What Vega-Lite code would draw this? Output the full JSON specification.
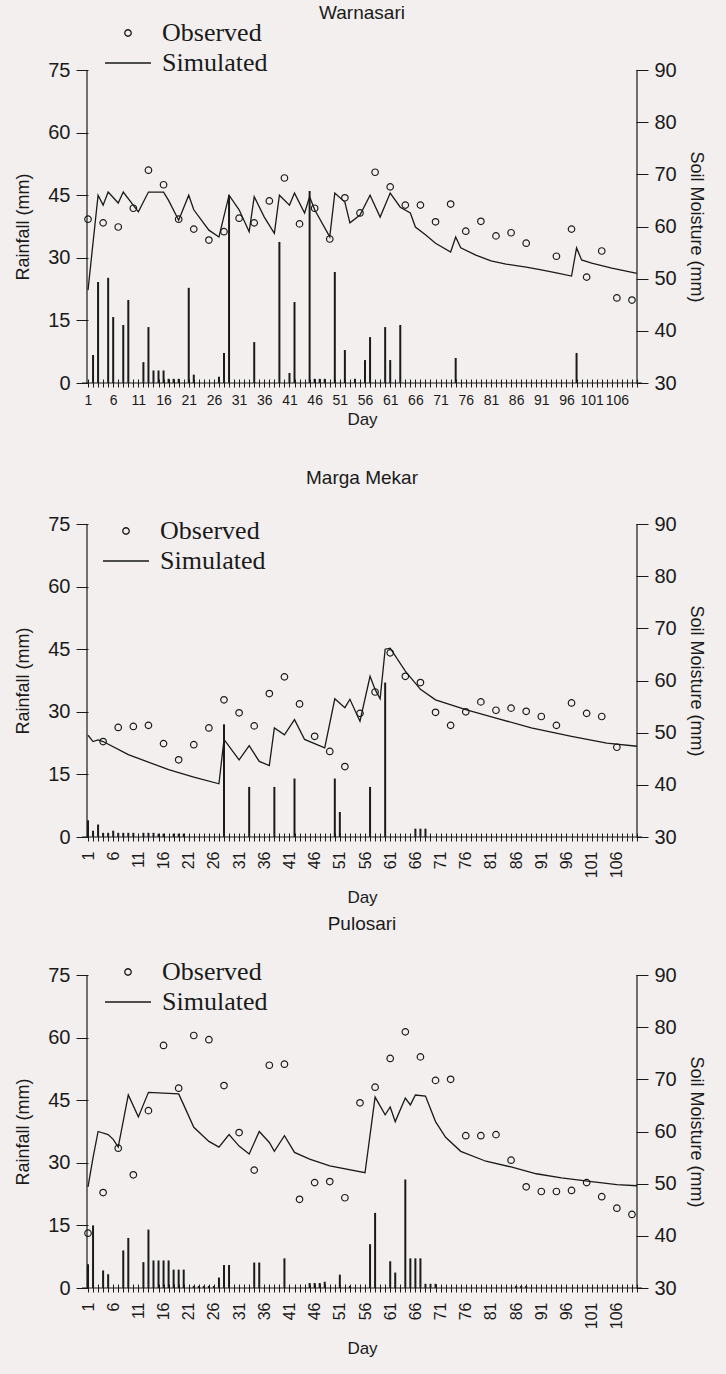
{
  "$schema": "https://vega.github.io/schema/vega-lite/v6.json",
  "background": "#f3efef",
  "padding": {"left": 14, "top": 4, "right": 22, "bottom": 20},
  "config": {
    "view": {"stroke": null},
    "font": "Liberation Sans",
    "axis": {"labelColor": "#1a1a1a", "titleColor": "#1a1a1a", "tickColor": "#1a1a1a", "grid": false, "domain": false, "titleFontWeight": "normal", "labelFont": "Liberation Sans", "titleFont": "Liberation Sans"}
  },
  "datasets": {
    "rain": [
      {"site": "Warnasari", "day": 2, "value": 6.7}, {"site": "Warnasari", "day": 3, "value": 24.2}, {"site": "Warnasari", "day": 5, "value": 25.2}, {"site": "Warnasari", "day": 6, "value": 15.8}, {"site": "Warnasari", "day": 8, "value": 13.9}, {"site": "Warnasari", "day": 9, "value": 19.9}, {"site": "Warnasari", "day": 12, "value": 5}, {"site": "Warnasari", "day": 13, "value": 13.4}, {"site": "Warnasari", "day": 14, "value": 3}, {"site": "Warnasari", "day": 15, "value": 3}, {"site": "Warnasari", "day": 16, "value": 3}, {"site": "Warnasari", "day": 17, "value": 1}, {"site": "Warnasari", "day": 18, "value": 1}, {"site": "Warnasari", "day": 19, "value": 1}, {"site": "Warnasari", "day": 21, "value": 22.8}, {"site": "Warnasari", "day": 22, "value": 2}, {"site": "Warnasari", "day": 27, "value": 1.5}, {"site": "Warnasari", "day": 28, "value": 7.2}, {"site": "Warnasari", "day": 29, "value": 45}, {"site": "Warnasari", "day": 34, "value": 9.8}, {"site": "Warnasari", "day": 39, "value": 33.8}, {"site": "Warnasari", "day": 41, "value": 2.4}, {"site": "Warnasari", "day": 42, "value": 19.4}, {"site": "Warnasari", "day": 45, "value": 46}, {"site": "Warnasari", "day": 46, "value": 1}, {"site": "Warnasari", "day": 47, "value": 1}, {"site": "Warnasari", "day": 48, "value": 1}, {"site": "Warnasari", "day": 50, "value": 26.6}, {"site": "Warnasari", "day": 52, "value": 7.9}, {"site": "Warnasari", "day": 54, "value": 1}, {"site": "Warnasari", "day": 56, "value": 5.5}, {"site": "Warnasari", "day": 57, "value": 11}, {"site": "Warnasari", "day": 60, "value": 13.4}, {"site": "Warnasari", "day": 61, "value": 5.5}, {"site": "Warnasari", "day": 63, "value": 13.9}, {"site": "Warnasari", "day": 74, "value": 6}, {"site": "Warnasari", "day": 98, "value": 7.2},
      {"site": "Marga Mekar", "day": 1, "value": 4}, {"site": "Marga Mekar", "day": 2, "value": 1.5}, {"site": "Marga Mekar", "day": 3, "value": 3}, {"site": "Marga Mekar", "day": 4, "value": 1}, {"site": "Marga Mekar", "day": 5, "value": 1}, {"site": "Marga Mekar", "day": 6, "value": 1.5}, {"site": "Marga Mekar", "day": 7, "value": 1}, {"site": "Marga Mekar", "day": 8, "value": 1}, {"site": "Marga Mekar", "day": 9, "value": 1}, {"site": "Marga Mekar", "day": 10, "value": 1}, {"site": "Marga Mekar", "day": 12, "value": 1}, {"site": "Marga Mekar", "day": 13, "value": 1}, {"site": "Marga Mekar", "day": 14, "value": 1}, {"site": "Marga Mekar", "day": 15, "value": 0.8}, {"site": "Marga Mekar", "day": 16, "value": 0.8}, {"site": "Marga Mekar", "day": 18, "value": 0.8}, {"site": "Marga Mekar", "day": 19, "value": 0.8}, {"site": "Marga Mekar", "day": 20, "value": 0.8}, {"site": "Marga Mekar", "day": 28, "value": 27}, {"site": "Marga Mekar", "day": 33, "value": 12}, {"site": "Marga Mekar", "day": 38, "value": 12}, {"site": "Marga Mekar", "day": 42, "value": 14}, {"site": "Marga Mekar", "day": 50, "value": 14}, {"site": "Marga Mekar", "day": 51, "value": 6}, {"site": "Marga Mekar", "day": 57, "value": 12}, {"site": "Marga Mekar", "day": 60, "value": 37}, {"site": "Marga Mekar", "day": 66, "value": 2}, {"site": "Marga Mekar", "day": 67, "value": 2}, {"site": "Marga Mekar", "day": 68, "value": 2},
      {"site": "Pulosari", "day": 1, "value": 5.7}, {"site": "Pulosari", "day": 2, "value": 15}, {"site": "Pulosari", "day": 4, "value": 4.2}, {"site": "Pulosari", "day": 5, "value": 3.3}, {"site": "Pulosari", "day": 8, "value": 9}, {"site": "Pulosari", "day": 9, "value": 12}, {"site": "Pulosari", "day": 12, "value": 6.2}, {"site": "Pulosari", "day": 13, "value": 14}, {"site": "Pulosari", "day": 14, "value": 6.6}, {"site": "Pulosari", "day": 15, "value": 6.6}, {"site": "Pulosari", "day": 16, "value": 6.6}, {"site": "Pulosari", "day": 17, "value": 6.6}, {"site": "Pulosari", "day": 18, "value": 4.4}, {"site": "Pulosari", "day": 19, "value": 4.4}, {"site": "Pulosari", "day": 20, "value": 4.4}, {"site": "Pulosari", "day": 22, "value": 0.5}, {"site": "Pulosari", "day": 23, "value": 0.5}, {"site": "Pulosari", "day": 24, "value": 0.5}, {"site": "Pulosari", "day": 25, "value": 0.5}, {"site": "Pulosari", "day": 26, "value": 0.5}, {"site": "Pulosari", "day": 27, "value": 2.5}, {"site": "Pulosari", "day": 28, "value": 5.5}, {"site": "Pulosari", "day": 29, "value": 5.5}, {"site": "Pulosari", "day": 34, "value": 6.1}, {"site": "Pulosari", "day": 35, "value": 6.1}, {"site": "Pulosari", "day": 40, "value": 7.1}, {"site": "Pulosari", "day": 45, "value": 1.2}, {"site": "Pulosari", "day": 46, "value": 1.2}, {"site": "Pulosari", "day": 47, "value": 1.2}, {"site": "Pulosari", "day": 48, "value": 1.5}, {"site": "Pulosari", "day": 51, "value": 3.2}, {"site": "Pulosari", "day": 53, "value": 0.5}, {"site": "Pulosari", "day": 57, "value": 10.5}, {"site": "Pulosari", "day": 58, "value": 18}, {"site": "Pulosari", "day": 61, "value": 6.4}, {"site": "Pulosari", "day": 62, "value": 3.7}, {"site": "Pulosari", "day": 64, "value": 26}, {"site": "Pulosari", "day": 65, "value": 7.1}, {"site": "Pulosari", "day": 66, "value": 7.1}, {"site": "Pulosari", "day": 67, "value": 7.1}, {"site": "Pulosari", "day": 68, "value": 1}, {"site": "Pulosari", "day": 69, "value": 1}, {"site": "Pulosari", "day": 70, "value": 1}, {"site": "Pulosari", "day": 86, "value": 0.5}, {"site": "Pulosari", "day": 87, "value": 0.5}, {"site": "Pulosari", "day": 88, "value": 0.5}
    ],
    "obs": [
      {"site": "Warnasari", "day": 1, "value": 61.4}, {"site": "Warnasari", "day": 4, "value": 60.7}, {"site": "Warnasari", "day": 7, "value": 59.9}, {"site": "Warnasari", "day": 10, "value": 63.5}, {"site": "Warnasari", "day": 13, "value": 70.8}, {"site": "Warnasari", "day": 16, "value": 68}, {"site": "Warnasari", "day": 19, "value": 61.4}, {"site": "Warnasari", "day": 22, "value": 59.5}, {"site": "Warnasari", "day": 25, "value": 57.4}, {"site": "Warnasari", "day": 28, "value": 59}, {"site": "Warnasari", "day": 31, "value": 61.6}, {"site": "Warnasari", "day": 34, "value": 60.7}, {"site": "Warnasari", "day": 37, "value": 64.9}, {"site": "Warnasari", "day": 40, "value": 69.3}, {"site": "Warnasari", "day": 43, "value": 60.5}, {"site": "Warnasari", "day": 46, "value": 63.5}, {"site": "Warnasari", "day": 49, "value": 57.6}, {"site": "Warnasari", "day": 52, "value": 65.5}, {"site": "Warnasari", "day": 55, "value": 62.6}, {"site": "Warnasari", "day": 58, "value": 70.4}, {"site": "Warnasari", "day": 61, "value": 67.6}, {"site": "Warnasari", "day": 64, "value": 64.1}, {"site": "Warnasari", "day": 67, "value": 64.1}, {"site": "Warnasari", "day": 70, "value": 60.9}, {"site": "Warnasari", "day": 73, "value": 64.3}, {"site": "Warnasari", "day": 76, "value": 59.1}, {"site": "Warnasari", "day": 79, "value": 61}, {"site": "Warnasari", "day": 82, "value": 58.2}, {"site": "Warnasari", "day": 85, "value": 58.8}, {"site": "Warnasari", "day": 88, "value": 56.8}, {"site": "Warnasari", "day": 94, "value": 54.3}, {"site": "Warnasari", "day": 97, "value": 59.5}, {"site": "Warnasari", "day": 100, "value": 50.3}, {"site": "Warnasari", "day": 103, "value": 55.3}, {"site": "Warnasari", "day": 106, "value": 46.3}, {"site": "Warnasari", "day": 109, "value": 45.9},
      {"site": "Marga Mekar", "day": 4, "value": 48.3}, {"site": "Marga Mekar", "day": 7, "value": 51}, {"site": "Marga Mekar", "day": 10, "value": 51.2}, {"site": "Marga Mekar", "day": 13, "value": 51.4}, {"site": "Marga Mekar", "day": 16, "value": 47.9}, {"site": "Marga Mekar", "day": 19, "value": 44.8}, {"site": "Marga Mekar", "day": 22, "value": 47.7}, {"site": "Marga Mekar", "day": 25, "value": 50.9}, {"site": "Marga Mekar", "day": 28, "value": 56.3}, {"site": "Marga Mekar", "day": 31, "value": 53.8}, {"site": "Marga Mekar", "day": 34, "value": 51.3}, {"site": "Marga Mekar", "day": 37, "value": 57.5}, {"site": "Marga Mekar", "day": 40, "value": 60.7}, {"site": "Marga Mekar", "day": 43, "value": 55.5}, {"site": "Marga Mekar", "day": 46, "value": 49.3}, {"site": "Marga Mekar", "day": 49, "value": 46.4}, {"site": "Marga Mekar", "day": 52, "value": 43.5}, {"site": "Marga Mekar", "day": 55, "value": 53.7}, {"site": "Marga Mekar", "day": 58, "value": 57.8}, {"site": "Marga Mekar", "day": 61, "value": 65.3}, {"site": "Marga Mekar", "day": 64, "value": 60.8}, {"site": "Marga Mekar", "day": 67, "value": 59.6}, {"site": "Marga Mekar", "day": 70, "value": 53.9}, {"site": "Marga Mekar", "day": 73, "value": 51.4}, {"site": "Marga Mekar", "day": 76, "value": 54}, {"site": "Marga Mekar", "day": 79, "value": 55.9}, {"site": "Marga Mekar", "day": 82, "value": 54.3}, {"site": "Marga Mekar", "day": 85, "value": 54.7}, {"site": "Marga Mekar", "day": 88, "value": 54.1}, {"site": "Marga Mekar", "day": 91, "value": 53.1}, {"site": "Marga Mekar", "day": 94, "value": 51.4}, {"site": "Marga Mekar", "day": 97, "value": 55.7}, {"site": "Marga Mekar", "day": 100, "value": 53.7}, {"site": "Marga Mekar", "day": 103, "value": 53.1}, {"site": "Marga Mekar", "day": 106, "value": 47.2},
      {"site": "Pulosari", "day": 1, "value": 40.5}, {"site": "Pulosari", "day": 4, "value": 48.3}, {"site": "Pulosari", "day": 7, "value": 56.8}, {"site": "Pulosari", "day": 10, "value": 51.7}, {"site": "Pulosari", "day": 13, "value": 64}, {"site": "Pulosari", "day": 16, "value": 76.5}, {"site": "Pulosari", "day": 19, "value": 68.3}, {"site": "Pulosari", "day": 22, "value": 78.4}, {"site": "Pulosari", "day": 25, "value": 77.6}, {"site": "Pulosari", "day": 28, "value": 68.8}, {"site": "Pulosari", "day": 31, "value": 59.8}, {"site": "Pulosari", "day": 34, "value": 52.6}, {"site": "Pulosari", "day": 37, "value": 72.7}, {"site": "Pulosari", "day": 40, "value": 72.9}, {"site": "Pulosari", "day": 43, "value": 47}, {"site": "Pulosari", "day": 46, "value": 50.2}, {"site": "Pulosari", "day": 49, "value": 50.4}, {"site": "Pulosari", "day": 52, "value": 47.3}, {"site": "Pulosari", "day": 55, "value": 65.5}, {"site": "Pulosari", "day": 58, "value": 68.5}, {"site": "Pulosari", "day": 61, "value": 74}, {"site": "Pulosari", "day": 64, "value": 79.1}, {"site": "Pulosari", "day": 67, "value": 74.3}, {"site": "Pulosari", "day": 70, "value": 69.8}, {"site": "Pulosari", "day": 73, "value": 70}, {"site": "Pulosari", "day": 76, "value": 59.2}, {"site": "Pulosari", "day": 79, "value": 59.2}, {"site": "Pulosari", "day": 82, "value": 59.4}, {"site": "Pulosari", "day": 85, "value": 54.5}, {"site": "Pulosari", "day": 88, "value": 49.4}, {"site": "Pulosari", "day": 91, "value": 48.5}, {"site": "Pulosari", "day": 94, "value": 48.5}, {"site": "Pulosari", "day": 97, "value": 48.7}, {"site": "Pulosari", "day": 100, "value": 50.2}, {"site": "Pulosari", "day": 103, "value": 47.5}, {"site": "Pulosari", "day": 106, "value": 45.3}, {"site": "Pulosari", "day": 109, "value": 44.1}
    ],
    "sim": [
      {"site": "Warnasari", "day": 1, "value": 47.8}, {"site": "Warnasari", "day": 3, "value": 66}, {"site": "Warnasari", "day": 4, "value": 64.1}, {"site": "Warnasari", "day": 5, "value": 66.6}, {"site": "Warnasari", "day": 7, "value": 64.5}, {"site": "Warnasari", "day": 8, "value": 66.6}, {"site": "Warnasari", "day": 11, "value": 62.8}, {"site": "Warnasari", "day": 13, "value": 66.6}, {"site": "Warnasari", "day": 16, "value": 66.6}, {"site": "Warnasari", "day": 17, "value": 65}, {"site": "Warnasari", "day": 19, "value": 61.2}, {"site": "Warnasari", "day": 21, "value": 66}, {"site": "Warnasari", "day": 22, "value": 63.2}, {"site": "Warnasari", "day": 25, "value": 59.3}, {"site": "Warnasari", "day": 27, "value": 58}, {"site": "Warnasari", "day": 29, "value": 66}, {"site": "Warnasari", "day": 31, "value": 63.2}, {"site": "Warnasari", "day": 33, "value": 59}, {"site": "Warnasari", "day": 34, "value": 65.7}, {"site": "Warnasari", "day": 36, "value": 61.8}, {"site": "Warnasari", "day": 38, "value": 58.7}, {"site": "Warnasari", "day": 39, "value": 66}, {"site": "Warnasari", "day": 41, "value": 64.1}, {"site": "Warnasari", "day": 42, "value": 66.4}, {"site": "Warnasari", "day": 44, "value": 62.6}, {"site": "Warnasari", "day": 45, "value": 65.7}, {"site": "Warnasari", "day": 46, "value": 63.2}, {"site": "Warnasari", "day": 49, "value": 58}, {"site": "Warnasari", "day": 50, "value": 66.4}, {"site": "Warnasari", "day": 52, "value": 64.7}, {"site": "Warnasari", "day": 53, "value": 60.7}, {"site": "Warnasari", "day": 55, "value": 62.2}, {"site": "Warnasari", "day": 57, "value": 66}, {"site": "Warnasari", "day": 59, "value": 61.8}, {"site": "Warnasari", "day": 61, "value": 66.4}, {"site": "Warnasari", "day": 63, "value": 63.7}, {"site": "Warnasari", "day": 65, "value": 62.6}, {"site": "Warnasari", "day": 66, "value": 59.9}, {"site": "Warnasari", "day": 68, "value": 58.4}, {"site": "Warnasari", "day": 70, "value": 56.8}, {"site": "Warnasari", "day": 73, "value": 55.1}, {"site": "Warnasari", "day": 74, "value": 58}, {"site": "Warnasari", "day": 75, "value": 55.9}, {"site": "Warnasari", "day": 78, "value": 54.5}, {"site": "Warnasari", "day": 81, "value": 53.4}, {"site": "Warnasari", "day": 84, "value": 52.8}, {"site": "Warnasari", "day": 88, "value": 52.2}, {"site": "Warnasari", "day": 91, "value": 51.7}, {"site": "Warnasari", "day": 94, "value": 51.1}, {"site": "Warnasari", "day": 97, "value": 50.5}, {"site": "Warnasari", "day": 98, "value": 55.9}, {"site": "Warnasari", "day": 99, "value": 53.6}, {"site": "Warnasari", "day": 101, "value": 53}, {"site": "Warnasari", "day": 105, "value": 52}, {"site": "Warnasari", "day": 110, "value": 51},
      {"site": "Marga Mekar", "day": 1, "value": 49.5}, {"site": "Marga Mekar", "day": 2, "value": 48.3}, {"site": "Marga Mekar", "day": 3, "value": 48.6}, {"site": "Marga Mekar", "day": 4, "value": 48.3}, {"site": "Marga Mekar", "day": 9, "value": 45.8}, {"site": "Marga Mekar", "day": 17, "value": 42.9}, {"site": "Marga Mekar", "day": 22, "value": 41.5}, {"site": "Marga Mekar", "day": 27, "value": 40.2}, {"site": "Marga Mekar", "day": 28, "value": 48.7}, {"site": "Marga Mekar", "day": 31, "value": 44.8}, {"site": "Marga Mekar", "day": 33, "value": 47.5}, {"site": "Marga Mekar", "day": 35, "value": 44.5}, {"site": "Marga Mekar", "day": 37, "value": 43.7}, {"site": "Marga Mekar", "day": 38, "value": 50.9}, {"site": "Marga Mekar", "day": 40, "value": 49.6}, {"site": "Marga Mekar", "day": 42, "value": 52.5}, {"site": "Marga Mekar", "day": 44, "value": 48.7}, {"site": "Marga Mekar", "day": 48, "value": 47.1}, {"site": "Marga Mekar", "day": 50, "value": 56.5}, {"site": "Marga Mekar", "day": 52, "value": 54.8}, {"site": "Marga Mekar", "day": 53, "value": 56.4}, {"site": "Marga Mekar", "day": 55, "value": 52.2}, {"site": "Marga Mekar", "day": 57, "value": 60.8}, {"site": "Marga Mekar", "day": 58, "value": 58.3}, {"site": "Marga Mekar", "day": 59, "value": 56.5}, {"site": "Marga Mekar", "day": 60, "value": 66}, {"site": "Marga Mekar", "day": 61, "value": 66.2}, {"site": "Marga Mekar", "day": 64, "value": 61.8}, {"site": "Marga Mekar", "day": 67, "value": 58.3}, {"site": "Marga Mekar", "day": 70, "value": 56.3}, {"site": "Marga Mekar", "day": 76, "value": 54.4}, {"site": "Marga Mekar", "day": 82, "value": 52.8}, {"site": "Marga Mekar", "day": 89, "value": 50.9}, {"site": "Marga Mekar", "day": 97, "value": 49.3}, {"site": "Marga Mekar", "day": 104, "value": 48}, {"site": "Marga Mekar", "day": 110, "value": 47.4},
      {"site": "Pulosari", "day": 1, "value": 49.4}, {"site": "Pulosari", "day": 2, "value": 55}, {"site": "Pulosari", "day": 3, "value": 60}, {"site": "Pulosari", "day": 5, "value": 59.4}, {"site": "Pulosari", "day": 6, "value": 58.5}, {"site": "Pulosari", "day": 7, "value": 57}, {"site": "Pulosari", "day": 9, "value": 67}, {"site": "Pulosari", "day": 11, "value": 62.8}, {"site": "Pulosari", "day": 13, "value": 67.5}, {"site": "Pulosari", "day": 19, "value": 67.2}, {"site": "Pulosari", "day": 20, "value": 65.1}, {"site": "Pulosari", "day": 22, "value": 60.8}, {"site": "Pulosari", "day": 25, "value": 58.1}, {"site": "Pulosari", "day": 27, "value": 57}, {"site": "Pulosari", "day": 29, "value": 59.4}, {"site": "Pulosari", "day": 31, "value": 57.2}, {"site": "Pulosari", "day": 33, "value": 55.7}, {"site": "Pulosari", "day": 35, "value": 60}, {"site": "Pulosari", "day": 37, "value": 57.9}, {"site": "Pulosari", "day": 38, "value": 56.2}, {"site": "Pulosari", "day": 40, "value": 59.2}, {"site": "Pulosari", "day": 42, "value": 56}, {"site": "Pulosari", "day": 45, "value": 54.7}, {"site": "Pulosari", "day": 49, "value": 53.4}, {"site": "Pulosari", "day": 56, "value": 52.1}, {"site": "Pulosari", "day": 58, "value": 66.6}, {"site": "Pulosari", "day": 60, "value": 63.2}, {"site": "Pulosari", "day": 61, "value": 64.7}, {"site": "Pulosari", "day": 62, "value": 61.9}, {"site": "Pulosari", "day": 64, "value": 66.4}, {"site": "Pulosari", "day": 65, "value": 65.1}, {"site": "Pulosari", "day": 66, "value": 67}, {"site": "Pulosari", "day": 68, "value": 66.8}, {"site": "Pulosari", "day": 70, "value": 61.9}, {"site": "Pulosari", "day": 72, "value": 58.9}, {"site": "Pulosari", "day": 75, "value": 56.2}, {"site": "Pulosari", "day": 80, "value": 54.3}, {"site": "Pulosari", "day": 85, "value": 53.2}, {"site": "Pulosari", "day": 90, "value": 51.9}, {"site": "Pulosari", "day": 95, "value": 51.1}, {"site": "Pulosari", "day": 101, "value": 50.4}, {"site": "Pulosari", "day": 106, "value": 49.8}, {"site": "Pulosari", "day": 110, "value": 49.6}
    ]
  },
  "bounds": "full",
  "spacing": 42,
  "resolve": {"scale": {"shape": "independent"}, "legend": {"shape": "independent"}},
  "vconcat": [
    {
      "width": 560, "height": 313,
      "title": {"text": "Warnasari", "font": "Liberation Sans", "fontSize": 19, "fontWeight": "normal", "color": "#1a1a1a", "frame": "group", "anchor": "middle", "offset": -3},
      "resolve": {"scale": {"y": "independent"}},
      "layer": [
        {"layer": [
          {"data": {"name": "rain"}, "transform": [{"filter": "datum.site == 'Warnasari'"}],
           "mark": {"type": "bar", "size": 2, "color": "#1a1a1a"},
           "encoding": {
             "x": {"field": "day", "type": "quantitative", "scale": {"domain": [0.8, 110], "nice": false, "zero": false},
                   "axis": {"title": "Day", "tickCount": 200, "format": "d", "values": [1,2,3,4,5,6,7,8,9,10,11,12,13,14,15,16,17,18,19,20,21,22,23,24,25,26,27,28,29,30,31,32,33,34,35,36,37,38,39,40,41,42,43,44,45,46,47,48,49,50,51,52,53,54,55,56,57,58,59,60,61,62,63,64,65,66,67,68,69,70,71,72,73,74,75,76,77,78,79,80,81,82,83,84,85,86,87,88,89,90,91,92,93,94,95,96,97,98,99,100,101,102,103,104,105,106,107,108,109,110],
                            "labelExpr": "(datum.value - 1) % 5 == 0 ? datum.label : ''", "labelOverlap": false, "labelFlush": false, "labelBound": false, "labelAngle": 0,
                            "offset": -4, "tickSize": 8, "labelPadding": 6, "labelFontSize": 14, "titleFontSize": 17, "titlePadding": 4}},
             "y": {"field": "value", "type": "quantitative", "scale": {"domain": [0, 75], "nice": false},
                   "axis": {"title": "Rainfall (mm)", "values": [0, 15, 30, 45, 60, 75], "offset": -6, "tickSize": 12, "labelPadding": 6, "labelFontSize": 20, "titleFontSize": 18, "titlePadding": 15}}
           }},
          {"data": {"values": [{}]}, "mark": {"type": "rule", "color": "#1a1a1a", "strokeWidth": 1.2},
           "encoding": {"y": {"datum": 0, "type": "quantitative"}}},
          {"data": {"values": [{}]}, "mark": {"type": "rule", "color": "#1a1a1a", "strokeWidth": 1.2},
           "encoding": {"x": {"datum": 0.8, "type": "quantitative"}}},
          {"data": {"values": [{}]}, "mark": {"type": "rule", "color": "#1a1a1a", "strokeWidth": 1.2},
           "encoding": {"x": {"datum": 110, "type": "quantitative"}}}
        ]},
        {"layer": [
          {"data": {"name": "obs"}, "transform": [{"filter": "datum.site == 'Warnasari'"}],
           "mark": {"type": "point", "filled": false, "size": 100, "strokeWidth": 1.2, "color": "#1a1a1a", "opacity": 1},
           "encoding": {
             "x": {"field": "day", "type": "quantitative"},
             "y": {"field": "value", "type": "quantitative", "scale": {"domain": [30, 90], "nice": false, "zero": false},
                   "axis": {"orient": "right", "title": "Soil Moisture (mm)", "values": [30, 40, 50, 60, 70, 80, 90], "offset": -6, "tickSize": 12, "labelPadding": 6, "labelFontSize": 20, "titleFontSize": 18, "titlePadding": 10}},
             "shape": {"datum": "Observed", "type": "nominal",
                       "scale": {"domain": ["Observed", "Simulated"], "range": ["M-0.65,0A0.65,0.65,0,1,0,0.65,0A0.65,0.65,0,1,0,-0.65,0Z", "M-4.6,0L4.6,0"]},
                       "legend": {"orient": "none", "legendX": 33, "legendY": -50, "title": null, "padding": 0, "labelFont": "Liberation Serif", "labelFontSize": 26, "labelColor": "#1a1a1a", "symbolSize": 100, "symbolStrokeWidth": 1.3, "symbolStrokeColor": "#1a1a1a", "symbolFillColor": "transparent", "labelOffset": 21, "rowPadding": 4}}
           }},
          {"data": {"name": "sim"}, "transform": [{"filter": "datum.site == 'Warnasari'"}],
           "mark": {"type": "line", "color": "#1a1a1a", "strokeWidth": 1.3},
           "encoding": {
             "x": {"field": "day", "type": "quantitative"},
             "y": {"field": "value", "type": "quantitative"}
           }}
        ]}
      ]
    },
    {
      "bounds": "full",
      "spacing": 9,
      "resolve": {"scale": {"shape": "independent"}, "legend": {"shape": "independent"}},
      "vconcat": [
        {
          "width": 560, "height": 313,
          "title": {"text": "Marga Mekar", "font": "Liberation Sans", "fontSize": 19, "fontWeight": "normal", "color": "#1a1a1a", "frame": "group", "anchor": "middle", "offset": 26},
          "resolve": {"scale": {"y": "independent"}},
          "layer": [
            {"layer": [
              {"data": {"name": "rain"}, "transform": [{"filter": "datum.site == 'Marga Mekar'"}],
               "mark": {"type": "bar", "size": 2, "color": "#1a1a1a"},
               "encoding": {
                 "x": {"field": "day", "type": "quantitative", "scale": {"domain": [0.8, 110], "nice": false, "zero": false},
                       "axis": {"title": "Day", "tickCount": 200, "format": "d", "values": [1,2,3,4,5,6,7,8,9,10,11,12,13,14,15,16,17,18,19,20,21,22,23,24,25,26,27,28,29,30,31,32,33,34,35,36,37,38,39,40,41,42,43,44,45,46,47,48,49,50,51,52,53,54,55,56,57,58,59,60,61,62,63,64,65,66,67,68,69,70,71,72,73,74,75,76,77,78,79,80,81,82,83,84,85,86,87,88,89,90,91,92,93,94,95,96,97,98,99,100,101,102,103,104,105,106,107,108,109,110],
                                "labelExpr": "(datum.value - 1) % 5 == 0 ? datum.label : ''", "labelOverlap": false, "labelFlush": false, "labelBound": false, "labelAngle": 270,
                                "offset": -4, "tickSize": 8, "labelPadding": 10, "labelFontSize": 16, "titleFontSize": 17, "titlePadding": 12}},
                 "y": {"field": "value", "type": "quantitative", "scale": {"domain": [0, 75], "nice": false},
                       "axis": {"title": "Rainfall (mm)", "values": [0, 15, 30, 45, 60, 75], "offset": -6, "tickSize": 12, "labelPadding": 6, "labelFontSize": 20, "titleFontSize": 18, "titlePadding": 15}}
               }},
              {"data": {"values": [{}]}, "mark": {"type": "rule", "color": "#1a1a1a", "strokeWidth": 1.2},
               "encoding": {"y": {"datum": 0, "type": "quantitative"}}},
              {"data": {"values": [{}]}, "mark": {"type": "rule", "color": "#1a1a1a", "strokeWidth": 1.2},
               "encoding": {"x": {"datum": 0.8, "type": "quantitative"}}},
              {"data": {"values": [{}]}, "mark": {"type": "rule", "color": "#1a1a1a", "strokeWidth": 1.2},
               "encoding": {"x": {"datum": 110, "type": "quantitative"}}}
            ]},
            {"layer": [
              {"data": {"name": "obs"}, "transform": [{"filter": "datum.site == 'Marga Mekar'"}],
               "mark": {"type": "point", "filled": false, "size": 100, "strokeWidth": 1.2, "color": "#1a1a1a", "opacity": 1},
               "encoding": {
                 "x": {"field": "day", "type": "quantitative"},
                 "y": {"field": "value", "type": "quantitative", "scale": {"domain": [30, 90], "nice": false, "zero": false},
                       "axis": {"orient": "right", "title": "Soil Moisture (mm)", "values": [30, 40, 50, 60, 70, 80, 90], "offset": -6, "tickSize": 12, "labelPadding": 6, "labelFontSize": 20, "titleFontSize": 18, "titlePadding": 10}},
                 "shape": {"datum": "Observed", "type": "nominal",
                           "scale": {"domain": ["Observed", "Simulated"], "range": ["M-0.65,0A0.65,0.65,0,1,0,0.65,0A0.65,0.65,0,1,0,-0.65,0Z", "M-4.6,0L4.6,0"]},
                           "legend": {"orient": "none", "legendX": 31, "legendY": -6, "title": null, "padding": 0, "labelFont": "Liberation Serif", "labelFontSize": 26, "labelColor": "#1a1a1a", "symbolSize": 100, "symbolStrokeWidth": 1.3, "symbolStrokeColor": "#1a1a1a", "symbolFillColor": "transparent", "labelOffset": 21, "rowPadding": 4}}
               }},
              {"data": {"name": "sim"}, "transform": [{"filter": "datum.site == 'Marga Mekar'"}],
               "mark": {"type": "line", "color": "#1a1a1a", "strokeWidth": 1.3},
               "encoding": {
                 "x": {"field": "day", "type": "quantitative"},
                 "y": {"field": "value", "type": "quantitative"}
               }}
            ]}
          ]
        },
        {
          "width": 560, "height": 313,
          "title": {"text": "Pulosari", "font": "Liberation Sans", "fontSize": 19, "fontWeight": "normal", "color": "#1a1a1a", "frame": "group", "anchor": "middle", "offset": 25},
          "resolve": {"scale": {"y": "independent"}},
          "layer": [
            {"layer": [
              {"data": {"name": "rain"}, "transform": [{"filter": "datum.site == 'Pulosari'"}],
               "mark": {"type": "bar", "size": 2, "color": "#1a1a1a"},
               "encoding": {
                 "x": {"field": "day", "type": "quantitative", "scale": {"domain": [0.8, 110], "nice": false, "zero": false},
                       "axis": {"title": "Day", "tickCount": 200, "format": "d", "values": [1,2,3,4,5,6,7,8,9,10,11,12,13,14,15,16,17,18,19,20,21,22,23,24,25,26,27,28,29,30,31,32,33,34,35,36,37,38,39,40,41,42,43,44,45,46,47,48,49,50,51,52,53,54,55,56,57,58,59,60,61,62,63,64,65,66,67,68,69,70,71,72,73,74,75,76,77,78,79,80,81,82,83,84,85,86,87,88,89,90,91,92,93,94,95,96,97,98,99,100,101,102,103,104,105,106,107,108,109,110],
                                "labelExpr": "(datum.value - 1) % 5 == 0 ? datum.label : ''", "labelOverlap": false, "labelFlush": false, "labelBound": false, "labelAngle": 270,
                                "offset": -4, "tickSize": 8, "labelPadding": 10, "labelFontSize": 16, "titleFontSize": 17, "titlePadding": 12}},
                 "y": {"field": "value", "type": "quantitative", "scale": {"domain": [0, 75], "nice": false},
                       "axis": {"title": "Rainfall (mm)", "values": [0, 15, 30, 45, 60, 75], "offset": -6, "tickSize": 12, "labelPadding": 6, "labelFontSize": 20, "titleFontSize": 18, "titlePadding": 15}}
               }},
              {"data": {"values": [{}]}, "mark": {"type": "rule", "color": "#1a1a1a", "strokeWidth": 1.2},
               "encoding": {"y": {"datum": 0, "type": "quantitative"}}},
              {"data": {"values": [{}]}, "mark": {"type": "rule", "color": "#1a1a1a", "strokeWidth": 1.2},
               "encoding": {"x": {"datum": 0.8, "type": "quantitative"}}},
              {"data": {"values": [{}]}, "mark": {"type": "rule", "color": "#1a1a1a", "strokeWidth": 1.2},
               "encoding": {"x": {"datum": 110, "type": "quantitative"}}}
            ]},
            {"layer": [
              {"data": {"name": "obs"}, "transform": [{"filter": "datum.site == 'Pulosari'"}],
               "mark": {"type": "point", "filled": false, "size": 100, "strokeWidth": 1.2, "color": "#1a1a1a", "opacity": 1},
               "encoding": {
                 "x": {"field": "day", "type": "quantitative"},
                 "y": {"field": "value", "type": "quantitative", "scale": {"domain": [30, 90], "nice": false, "zero": false},
                       "axis": {"orient": "right", "title": "Soil Moisture (mm)", "values": [30, 40, 50, 60, 70, 80, 90], "offset": -6, "tickSize": 12, "labelPadding": 6, "labelFontSize": 20, "titleFontSize": 18, "titlePadding": 10}},
                 "shape": {"datum": "Observed", "type": "nominal",
                           "scale": {"domain": ["Observed", "Simulated"], "range": ["M-0.65,0A0.65,0.65,0,1,0,0.65,0A0.65,0.65,0,1,0,-0.65,0Z", "M-4.6,0L4.6,0"]},
                           "legend": {"orient": "none", "legendX": 33, "legendY": -16, "title": null, "padding": 0, "labelFont": "Liberation Serif", "labelFontSize": 26, "labelColor": "#1a1a1a", "symbolSize": 100, "symbolStrokeWidth": 1.3, "symbolStrokeColor": "#1a1a1a", "symbolFillColor": "transparent", "labelOffset": 21, "rowPadding": 4}}
               }},
              {"data": {"name": "sim"}, "transform": [{"filter": "datum.site == 'Pulosari'"}],
               "mark": {"type": "line", "color": "#1a1a1a", "strokeWidth": 1.3},
               "encoding": {
                 "x": {"field": "day", "type": "quantitative"},
                 "y": {"field": "value", "type": "quantitative"}
               }}
            ]}
          ]
        }
      ]
    }
  ]
}
